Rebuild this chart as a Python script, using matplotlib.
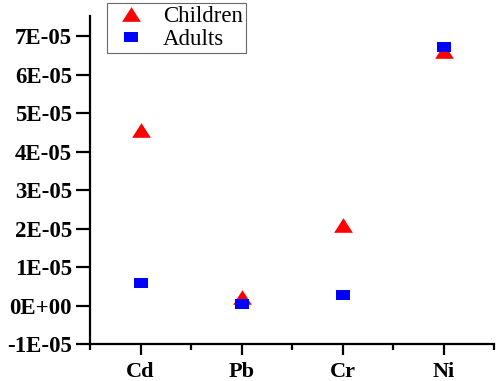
import matplotlib
matplotlib.use('Agg')
import matplotlib.pyplot as plt
from matplotlib.ticker import FuncFormatter, MultipleLocator

metals = ['Cd', 'Pb', 'Cr', 'Ni']
children = [4.55e-05, 2.2e-06, 2.1e-05, 6.62e-05]
adults = [5.8e-06, 3e-07, 2.7e-06, 6.72e-05]

plt.rcParams['font.family'] = ['Liberation Serif', 'DejaVu Serif']

fig = plt.figure(figsize=(4.98, 3.81), dpi=100)
ax = fig.add_axes([90/498, 37/381, 404/498, 328/381])

# stretched markers, the picture is wider than tall
tri = [(-1, -0.78), (1, -0.78), (0, 0.78), (-1, -0.78)]
sq = [(-1, -0.72), (1, -0.72), (1, 0.72), (-1, 0.72), (-1, -0.72)]

x = range(len(metals))
ax.plot(x, children, linestyle='none', marker=tri, markersize=13.5,
        color='#ff0000', markeredgewidth=0, label='Children')
ax.plot(x, adults, linestyle='none', marker=sq, markersize=10.5,
        color='#0000ff', markeredgewidth=0, label='Adults')

ax.set_xlim(-0.5, 3.5)
ax.set_ylim(-1e-05, 7.52e-05)
ax.set_xticks(list(x))
ax.set_xticklabels(metals)
ax.xaxis.set_minor_locator(MultipleLocator(0.5))
ax.yaxis.set_major_locator(MultipleLocator(1e-05))

def fmt(v, pos):
    n = round(v / 1e-05)
    if n == 0:
        return '0E+00'
    return '%dE-05' % n
ax.yaxis.set_major_formatter(FuncFormatter(fmt))

for s in ['top', 'right']:
    ax.spines[s].set_visible(False)
for s in ['left', 'bottom']:
    ax.spines[s].set_linewidth(1.6)

ax.tick_params(axis='y', direction='out', length=10, width=1.6, pad=3,
               labelsize=16.5)
ax.tick_params(axis='x', which='major', direction='out', length=8, width=1.6,
               pad=5, labelsize=16)
ax.tick_params(axis='x', which='minor', direction='out', length=4, width=1.6)
for lab in ax.get_xticklabels() + ax.get_yticklabels():
    lab.set_fontweight('bold')

leg = fig.legend(loc='upper left', bbox_to_anchor=(107/498, 1 - 3/381),
                 borderaxespad=0, fontsize=16.5, frameon=True, fancybox=False,
                 handletextpad=0.5, borderpad=0.15, labelspacing=0.05,
                 handlelength=1.8)
leg.get_frame().set_edgecolor('#444444')
leg.get_frame().set_linewidth(0.8)

fig.savefig('out.png', dpi=100)
